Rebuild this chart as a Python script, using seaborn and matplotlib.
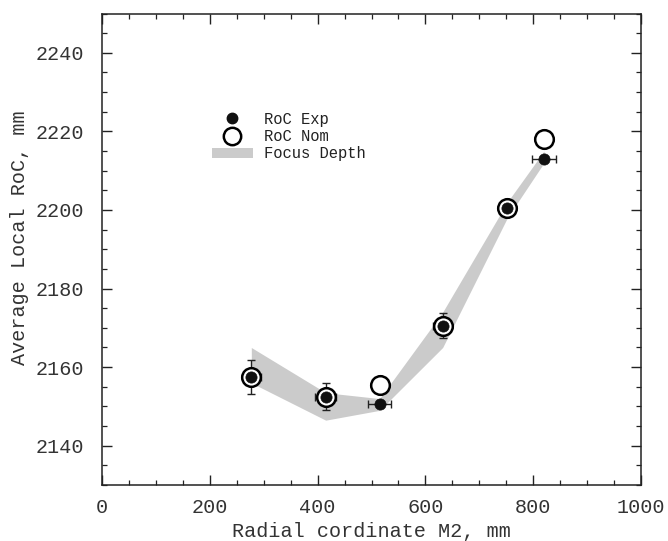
import numpy as np
import pandas as pd
import matplotlib
matplotlib.use("Agg")
import matplotlib.pyplot as plt
import seaborn as sns
from matplotlib.ticker import MultipleLocator
from matplotlib.lines import Line2D
from matplotlib.patches import Patch

# Data
radial = [277, 415, 515, 632, 752, 820]
roc_exp = [2157.5, 2152.5, 2150.5, 2170.5, 2200.5, 2213.0]
roc_nom = [2157.5, 2152.5, 2155.5, 2170.5, 2200.5, 2218.0]
x_err = [18, 19, 21, 18, 15, 22]
y_err = [4.4, 3.4, 0.0, 3.2, 1.2, 0.0]
focus_upper = [2165, 2153.5, 2152, 2174, 2202, 2215]
focus_lower = [2156, 2146.5, 2149, 2165, 2198, 2212]

sns.set_theme(style="ticks")
plt.rcParams['font.family'] = ['Liberation Mono', 'DejaVu Sans Mono']

df = pd.DataFrame({"x": radial, "exp": roc_exp, "nom": roc_nom})

fig = plt.figure(figsize=(6.68, 5.41), dpi=100)
ax = fig.add_axes([0.1527, 0.1035, 0.8069, 0.8715])

ax.fill_between(radial, focus_lower, focus_upper, color="#cbcbcb", lw=0, zorder=1)
ax.errorbar(radial, roc_exp, xerr=x_err, yerr=y_err, fmt="none", ecolor="#222222",
            elinewidth=1.0, capsize=3, capthick=1.0, zorder=2)
sns.scatterplot(data=df, x="x", y="nom", ax=ax, s=180, marker="o",
                facecolor="white", edgecolor="black", linewidth=1.8, zorder=3, legend=False)
sns.scatterplot(data=df, x="x", y="exp", ax=ax, s=65, marker="o",
                color="#111111", edgecolor="#111111", linewidth=0.5, zorder=4, legend=False)

ax.set_xlim(0, 1000)
ax.set_ylim(2130, 2250)
ax.xaxis.set_major_locator(MultipleLocator(200))
ax.xaxis.set_minor_locator(MultipleLocator(50))
ax.yaxis.set_major_locator(MultipleLocator(20))
ax.yaxis.set_minor_locator(MultipleLocator(5))
ax.tick_params(which="both", direction="in", top=True, right=True, color="#222222",
               labelsize=14.5, labelcolor="#333333")
ax.tick_params(which="major", length=7.5, width=1.0)
ax.tick_params(which="minor", length=3.8, width=0.9)
ax.tick_params(axis="y", which="major", pad=13)
ax.tick_params(axis="x", which="major", pad=9)
for s in ax.spines.values():
    s.set_linewidth(1.1)
    s.set_color("#222222")

ax.set_xlabel("Radial cordinate M2, mm", fontsize=14.5, color="#333333", labelpad=4)
ax.set_ylabel("Average Local RoC, mm", fontsize=14.5, color="#333333")
ax.yaxis.set_label_coords(-0.135, 0.525)

handles = [
    Line2D([], [], marker="o", ls="none", color="#111111", markersize=7.5),
    Line2D([], [], marker="o", ls="none", markerfacecolor="white", markeredgecolor="black",
           markeredgewidth=1.8, markersize=12.5),
    Patch(facecolor="#cbcbcb", edgecolor="none"),
]
leg = ax.legend(handles, ["RoC Exp", "RoC Nom", "Focus Depth"], loc="upper left",
                bbox_to_anchor=(0.19, 0.808), frameon=False, fontsize=11.2,
                handlelength=2.6, handletextpad=0.7, labelspacing=0.15, borderpad=0)
for t in leg.get_texts():
    t.set_color("#222222")

fig.savefig("out.png", dpi=100)
